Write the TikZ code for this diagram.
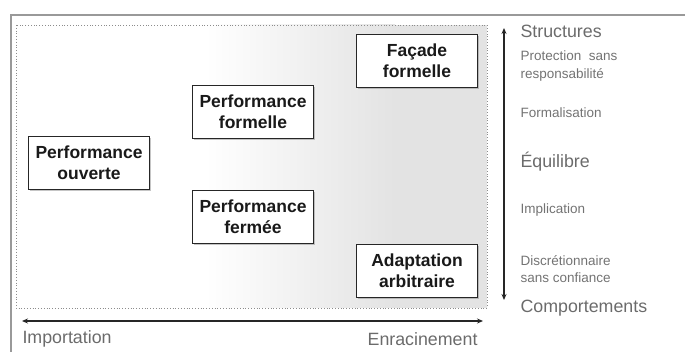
\documentclass[tikz,border=0pt]{standalone}
\usepackage{fontspec}
\setmainfont{Liberation Sans}
\usepackage{tikz}
\usetikzlibrary{arrows, arrows.meta, positioning, shadows, calc}

\begin{document}
\begin{tikzpicture}[x=1pt,y=-1pt,>={Stealth[length=6pt,width=5pt]},
    boite/.style={shape=rectangle,draw=black!85,line width=1.4pt,fill=white,
      minimum width=121pt,minimum height=53pt,align=center,text=black!90,
      font=\fontsize{17.5}{21}\selectfont\bfseries,
      drop shadow={shadow xshift=1.2pt,shadow yshift=-1.2pt,fill=black!45}},
    grand/.style={anchor=west,text=black!58,font=\fontsize{17.8}{20}\selectfont},
    petit/.style={anchor=west,align=left,text=black!55,font=\fontsize{13.5}{17.5}\selectfont}]
    \useasboundingbox (0,0) rectangle (685,352);

    %%%% cadre
    \draw [color=black!40,line width=1.2pt] (685,15) -- (11,15) -- (11,352);
    \fill [white] (16,25) rectangle (205,308);
    \shade [left color=white,right color=black!11] (205,25) rectangle (395,308);
    \fill [black!11] (395,25) rectangle (487,308);
    \draw [color=black!45,dotted,line width=.8pt] (16,25) rectangle (487,308);

    %%%% cases
    \node (po) at (89,163) [boite] {Performance\\ouverte}; %
    \node (pf) at (253,112) [boite] {Performance\\formelle}; %
    \node (pe) at (253,217) [boite] {Performance\\fermée}; %
    \node (ff) at (417,61) [boite] {Façade\\formelle}; %
    \node (aa) at (417,271) [boite] {Adaptation\\arbitraire}; %

    %%%% axes
    \coordinate (gauche) at (22,321); %
    \coordinate (droite) at (483,321); %
    \coordinate (haut) at (504,28); %
    \coordinate (bas) at (504,300); %
    \draw [color=black!85,line width=1.2pt,<->] (gauche) to (droite); %
    \draw [color=black!85,line width=1.2pt,<->] (haut) to (bas); %

    %%%% etiquettes
    \node (imp) at (19,339) [grand] {Importation}; %
    \node (enr) at (481,339) [grand,anchor=east] {Enracinement}; %
    \node (str) at (517,31) [grand] {Structures}; %
    \node (prot) at (517,66) [petit] {Protection\ \ sans\\responsabilité}; %
    \node (form) at (517,113) [petit] {Formalisation}; %
    \node (equi) at (517,162) [grand] {Équilibre}; %
    \node (impl) at (517,210) [petit] {Implication}; %
    \node (disc) at (517,269) [petit] {Discrétionnaire\\sans confiance}; %
    \node (comp) at (517,308) [grand] {Comportements}; %
  \end{tikzpicture}
\end{document}
